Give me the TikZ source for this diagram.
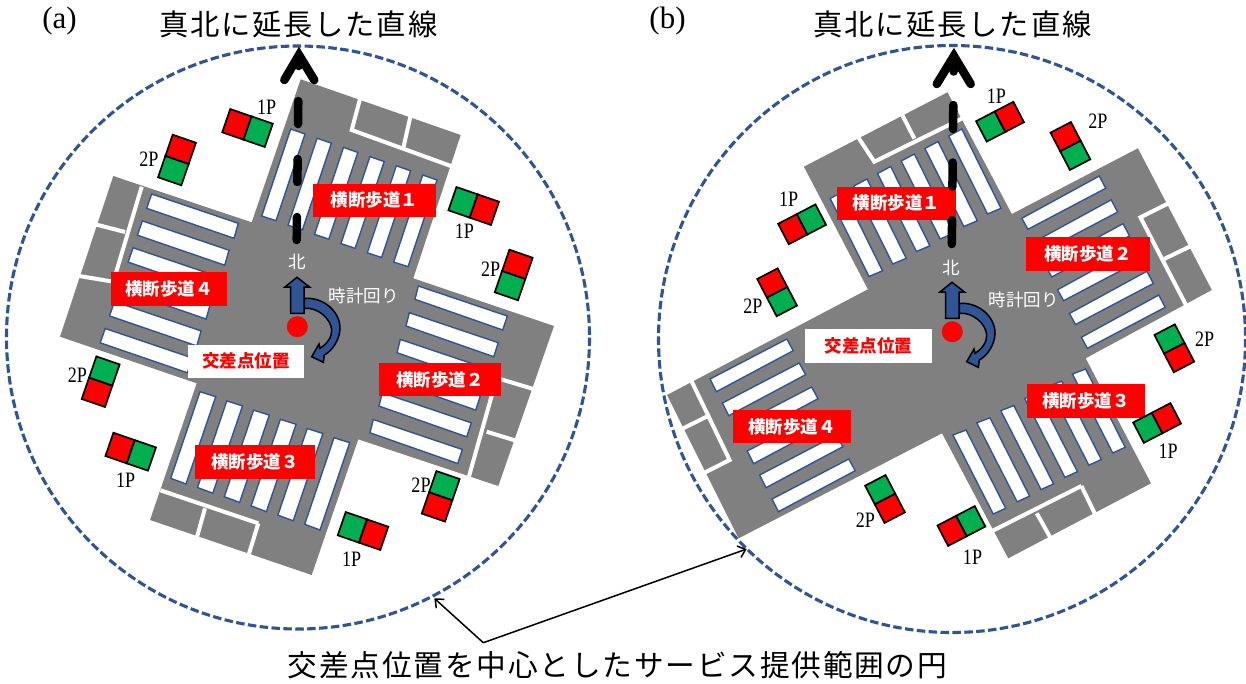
\documentclass[tikz,border=0pt]{standalone}
\usepackage{fontspec}
\usetikzlibrary{arrows.meta}
\setmainfont{Liberation Serif}
\newfontfamily\cjk{Noto Sans CJK JP}
\newfontfamily\cjkT[LetterSpace=6]{Noto Sans CJK JP}
\newfontfamily\latS[FakeStretch=0.82]{Liberation Serif}
\definecolor{rd}{HTML}{FF0000}
\definecolor{gr}{HTML}{00B050}
\definecolor{bl}{HTML}{2F5597}
\definecolor{rg}{HTML}{808080}
\tikzset{
  road/.style={fill=rg,draw=none},
  gap/.style={draw=white,line width=4pt,line cap=butt,line join=miter},
  stripeline/.style={fill=white,draw=bl,line width=1.4pt},
  ring/.style={draw=bl,line width=3.1pt,dash pattern=on 8.5pt off 3.4pt},
  northline/.style={draw=black,line width=8.5pt,line cap=round},
  chevron/.style={draw=black,line width=8.5pt,line cap=round,line join=miter},
  lamp/.style={draw=black,line width=1.7pt},
  redlabel/.style={fill=rd,text=white,inner sep=0pt,font=\cjk\bfseries\fontsize{17.5}{20}\selectfont},
  whitelabel/.style={fill=white,text=rd,inner sep=0pt,font=\cjk\bfseries\fontsize{17.5}{20}\selectfont},
  sp/.style={text=black,inner sep=0pt,font=\latS\fontsize{22}{24}\selectfont},
  onroad/.style={text=white,inner sep=0pt,font=\cjk\fontsize{17.5}{20}\selectfont},
  titletext/.style={text=black,inner sep=0pt,font=\cjkT\fontsize{29.3}{34}\selectfont},
  captext/.style={text=black,inner sep=0pt,font=\cjkT\fontsize{29.7}{34}\selectfont},
  panel/.style={text=black,inner sep=0pt,font=\fontsize{31}{34}\selectfont},
  leader/.style={draw=black,line width=1.5pt,-{Straight Barb[length=7pt,width=12pt]}},
  bluearrow/.style={fill=bl,draw=black,line width=1.5pt,line join=miter},
}
% six stripes: corners A B C D, spacing dx dy
\newcommand\sixstripes[6]{%
  \foreach \i in {0,...,5}{%
    \draw[stripeline,shift={({\i*(#5)},{\i*(#6)})}] (#1)--(#2)--(#3)--(#4)--cycle;}}
% signal: x y angle first second halflength halfwidth
\newcommand\signal[7]{%
  \begin{scope}[shift={(#1,#2)},rotate=-#3]
    \draw[lamp,fill=#4] (-#6,-#7) rectangle (0,#7);
    \draw[lamp,fill=#5] (0,-#7) rectangle (#6,#7);
  \end{scope}}
\newcommand\compass[2]{%
  \begin{scope}[shift={(#1,#2)}]
    \draw[bluearrow] (304.3,298.3) .. controls (324,297) and (340.5,312) .. (340,329)
      .. controls (339.5,340) and (332,351) .. (324.3,355) -- (323.3,362.3) -- (311.7,356.7)
      -- (319,344) -- (320,348.3) .. controls (327,344) and (332,337) .. (331.7,330)
      .. controls (331,319) and (318,307) .. (304.3,308.3) -- cycle;
    \draw[bluearrow] (297,277.3) -- (309.5,287) -- (304,287) -- (304,313.3) -- (290.7,313.3) -- (290.7,287) -- (285,287) -- cycle;
    \fill[rd] (297.3,326.7) circle (10.5);
  \end{scope}}
\begin{document}
\begin{tikzpicture}[x=1pt,y=-1pt]
\useasboundingbox (0,0) rectangle (1246,683);
\fill[white] (0,0) rectangle (1246,683);

% ---------- circles
\draw[ring] (298,337.5) circle (291.5);
\draw[ring] (952,339) circle (293.5);

% ---------- panel (a)
\fill[road] (300.7,79.3)--(460.7,135)--(413.3,278.3)--(554,326)--(498.3,486)--(358.3,439.3)
  --(311.7,575)--(150,520)--(196.7,383.3)--(60,336.7)--(113.3,176)--(251.7,222.3)--cycle;
\draw[gap] (360,99)--(351.7,130)--(455,167.5);
\draw[gap] (410.5,116)--(403.3,148);
\draw[gap] (535,389.5)--(496.7,378)--(468.5,478);
\draw[gap] (486.7,431.7)--(517,441);
\draw[gap] (258.3,523.3)--(248.3,556);
\draw[gap] (160.5,490.3)--(258.3,523.3);
\draw[gap] (205,508.3)--(196.7,538);
\draw[gap] (141.7,186.7)--(113.3,281.7)--(78,275.8);
\draw[gap] (96,224.5)--(125,232);
\sixstripes{290.7,129}{305,134}{276,220.7}{261.7,216}{26.4}{9.2}
\sixstripes{200,391.7}{215.7,396.7}{186,484}{170.7,478.3}{26.8}{9.2}
\sixstripes{151.7,194}{238.3,223.3}{234,238.3}{146.7,208.3}{-9.3}{26.9}
\sixstripes{418.3,286}{507.3,316}{502.7,330}{415,299.3}{-9}{26.7}

\node[redlabel,minimum width=122.7pt,minimum height=32.7pt] (cwA1) at (374.6,200.3) {横断歩道１};
\node[redlabel,minimum width=115.7pt,minimum height=34pt] (cwA4) at (168.8,289) {横断歩道４};
\node[redlabel,minimum width=122pt,minimum height=32.7pt] (cwA2) at (440,379.6) {横断歩道２};
\node[redlabel,minimum width=120pt,minimum height=34pt] (cwA3) at (255,462) {横断歩道３};
\node[whitelabel,minimum width=116pt,minimum height=32.7pt] (posA) at (246,361.3) {交差点位置};

\signal{247.5}{128}{19}{rd}{gr}{22.5}{12.3}
\signal{177}{160}{109}{rd}{gr}{22.5}{12.3}
\signal{473.7}{206}{19}{gr}{rd}{22.5}{12.3}
\signal{513.7}{275}{109}{rd}{gr}{22.5}{12.3}
\signal{100.7}{381.7}{109}{gr}{rd}{22.5}{12.3}
\signal{130.7}{451.7}{19}{rd}{gr}{22.5}{12.3}
\signal{440.7}{496.3}{109}{gr}{rd}{22.5}{12.3}
\signal{363}{531}{19}{gr}{rd}{22.5}{12.3}
\node[sp] (sA1) at (266.7,107.3) {1P};
\node[sp] (sA2) at (149,159.3) {2P};
\node[sp] (sA3) at (464.3,231.7) {1P};
\node[sp] (sA4) at (490.7,269.3) {2P};
\node[sp] (sA5) at (77.3,375) {2P};
\node[sp] (sA6) at (125.7,480.7) {1P};
\node[sp] (sA7) at (421,485) {2P};
\node[sp] (sA8) at (351.7,559.3) {1P};

\compass{0}{0}
\node[onroad] (nA) at (297,262) {北};
\node[onroad] (cwiseA) at (363.5,295.5) {時計回り};
\draw[northline,dash pattern=on 23pt off 35pt] (296.7,240) -- (298.8,56);
\draw[chevron] (284.3,80)--(299,55)--(314.3,80);

% ---------- panel (b)
\fill[road] (947.5,92.3)--(1011.8,214)--(1137.9,148.3)--(1211.8,290)--(1085.7,358.3)--(1151,483.3)
  --(1008.2,558.3)--(942,433.3)--(738.6,538.3)--(667,395)--(867.9,289.3)--(803.9,166.7)--cycle;
\draw[gap] (857,135.5)--(874.3,161.7)--(962,118.5);
\draw[gap] (901.5,113.5)--(914.3,138.5);
\draw[gap] (1170,202.5)--(1140.4,217.3)--(1186.5,306);
\draw[gap] (1164,259)--(1191,246);
\draw[gap] (1081.4,486)--(1095,514);
\draw[gap] (1081.4,486)--(992.5,530.8);
\draw[gap] (1036.8,513.3)--(1050,537);
\draw[gap] (690.5,379)--(729.6,460)--(704.5,472.7);
\draw[gap] (681.5,429.2)--(710,415);
\sixstripes{948.6,136}{961.8,129}{1001,208.3}{987.5,214}{-23.7}{12.5}
\sixstripes{1021.8,218.3}{1099.3,176}{1105.7,188.3}{1027.9,229.3}{11.9}{23.8}
\sixstripes{952.9,435}{966.1,430}{1005.7,508.3}{993.2,514}{23.9}{-12.2}
\sixstripes{710,379}{786.8,339}{793.2,350.7}{716.4,391.7}{12.4}{24}

\node[redlabel,minimum width=118.6pt,minimum height=32.7pt] (cwB1) at (896.4,203.3) {横断歩道１};
\node[redlabel,minimum width=123.6pt,minimum height=34pt] (cwB2) at (1087.8,254) {横断歩道２};
\node[redlabel,minimum width=118pt,minimum height=33.7pt] (cwB3) at (1086,400.8) {横断歩道３};
\node[redlabel,minimum width=118pt,minimum height=33pt] (cwB4) at (792,426.5) {横断歩道４};
\node[whitelabel,minimum width=127pt,minimum height=33.7pt] (posB) at (868.5,345.8) {交差点位置};

\signal{1000}{121.7}{-27.5}{gr}{rd}{21}{11.5}
\signal{1070.4}{146}{62.5}{rd}{gr}{21}{11.5}
\signal{802.1}{224.3}{-27.5}{rd}{gr}{21}{11.5}
\signal{777.1}{292.3}{62.5}{rd}{gr}{21}{11.5}
\signal{1174.3}{348.3}{62.5}{gr}{rd}{21}{11.5}
\signal{1157.1}{423}{-27.5}{gr}{rd}{21}{11.5}
\signal{885}{499}{62.5}{gr}{rd}{21}{11.5}
\signal{961.4}{526}{-27.5}{rd}{gr}{21}{11.5}
\node[sp] (sB1) at (996.4,96) {1P};
\node[sp] (sB2) at (1097.9,121.7) {2P};
\node[sp] (sB3) at (788.6,199.3) {1P};
\node[sp] (sB4) at (752.9,306) {2P};
\node[sp] (sB5) at (1204.6,339.3) {2P};
\node[sp] (sB6) at (1168.2,451.7) {1P};
\node[sp] (sB7) at (865.4,520) {2P};
\node[sp] (sB8) at (972.5,557.3) {1P};

\compass{655}{5}
\node[onroad] (nB) at (951,268) {北};
\node[onroad] (cwiseB) at (1023.6,300) {時計回り};
\draw[northline,dash pattern=on 24pt off 33.5pt] (951.8,244) -- (953.8,60);
\draw[chevron] (936.8,84)--(953.9,56)--(970.7,84);

% ---------- titles
\node[panel] (pa) at (59.5,21.5) {(a)};
\node[panel] (pb) at (667.5,21.5) {(b)};
\node[titletext] (ta) at (298.5,24) {真北に延長した直線};
\node[titletext] (tb) at (952.5,24) {真北に延長した直線};
\node[captext] (cap) at (617.5,665) {交差点位置を中心としたサービス提供範囲の円};

% ---------- leaders
\coordinate (hub) at (483.3,642.7);
\coordinate (onA) at (434.3,598.3);
\coordinate (onB) at (746.7,549);
\draw[leader] (hub) -- (onA);
\draw[leader] (hub) -- (onB);
\end{tikzpicture}
\end{document}
